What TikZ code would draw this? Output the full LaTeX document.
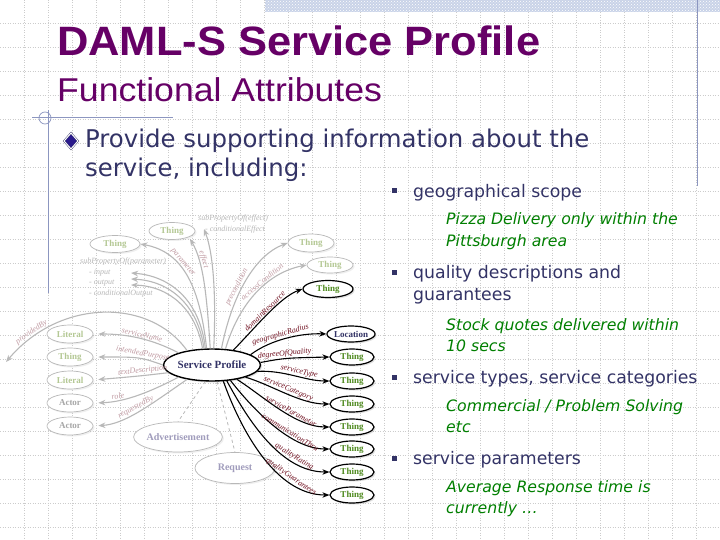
\documentclass[tikz,border=0pt]{standalone}
\usepackage{fontspec}
\usetikzlibrary{arrows.meta,positioning,shapes.geometric,patterns,shadows}
\newfontfamily\titlefont[FakeStretch=1.06]{Liberation Sans}
\newfontfamily\subtitlefont[FakeStretch=1.08]{Liberation Sans}
\newfontfamily\bodyfont{DejaVu Sans}
\newfontfamily\graphfont{Liberation Serif}
\definecolor{slidepurple}{HTML}{660066}
\definecolor{slidenavy}{HTML}{333366}
\definecolor{notegreen}{HTML}{007F00}
\definecolor{gridgrey}{HTML}{CCCCCC}
\definecolor{bandblue}{HTML}{C9D3E8}
\definecolor{rulecolor}{HTML}{8C96C0}
\definecolor{diamondblue}{HTML}{2A1A8C}
\definecolor{labelred}{HTML}{701020}
\definecolor{labelpink}{HTML}{C09AA2}
\definecolor{fadegrey}{HTML}{B8B8B8}
\definecolor{thinggreen}{HTML}{4E8A1E}
\definecolor{fadegreen}{HTML}{B4C894}
\definecolor{fadeblue}{HTML}{A09CBC}

\begin{document}
\begin{tikzpicture}[
    x=1pt, y=-1pt,
    gridline/.style={draw=gridgrey, line width=0.5pt, dash pattern=on 1pt off 1.5pt},
    ruleline/.style={draw=rulecolor, line width=1pt},
    bulletsq/.style={fill=slidenavy, minimum size=5pt, inner sep=0pt},
    headtext/.style={anchor=base west, inner sep=0pt, text=slidenavy, font=\bodyfont\fontsize{24.4}{29}\selectfont},
    itemtext/.style={anchor=base west, inner sep=0pt, text=slidenavy, font=\bodyfont\fontsize{17.3}{21}\selectfont},
    notetext/.style={anchor=base west, inner sep=0pt, text=notegreen, font=\bodyfont\itshape\fontsize{15.7}{19}\selectfont},
    solidnode/.style={ellipse, draw=black, line width=1.2pt, fill=white, inner sep=0pt, minimum width=44pt, minimum height=16pt, font=\graphfont\bfseries\fontsize{9}{9}\selectfont, text=thinggreen, drop shadow={shadow xshift=1.5pt, shadow yshift=-1.5pt, opacity=0.25}},
    fadenode/.style={ellipse, draw=fadegrey, line width=0.7pt, fill=white, inner sep=0pt, minimum width=46pt, minimum height=18pt, font=\graphfont\bfseries\fontsize{9}{9}\selectfont, text=fadegreen, drop shadow={shadow xshift=1.5pt, shadow yshift=-1.5pt, opacity=0.12}},
    solidedge/.style={-{Stealth[length=7pt,width=5.5pt]}, line width=1.1pt, black},
    fadeedge/.style={-{Stealth[length=7pt,width=5.5pt]}, line width=1.1pt, fadegrey},
    dashedge/.style={draw=fadegrey, dashed, line width=0.8pt},
    solidlabel/.style={sloped, above, inner sep=0.8pt, font=\graphfont\itshape\fontsize{8}{8}\selectfont, text=labelred},
    fadelabel/.style={solidlabel, text=labelpink},
    fadetext/.style={align=left, inner sep=0pt, text=fadegrey, font=\graphfont\itshape\fontsize{8}{10.5}\selectfont}
]
\useasboundingbox (0,0) rectangle (720,540);
\fill[white] (0,0) rectangle (720,540);

% slide background
\foreach \gx in {24,48,...,696} \draw[gridline] (\gx,0) -- (\gx,540);
\foreach \gy in {23,47,...,539} \draw[gridline] (0,\gy) -- (720,\gy);
\fill[bandblue] (265,0) rectangle (720,12);
\fill[pattern=crosshatch dots, pattern color=white] (265,0) rectangle (720,12);
\draw[ruleline] (697,0) -- (697,186);
\draw[ruleline] (32,118) -- (173,118);
\draw[ruleline] (48,110) -- (48,293);
\draw[ruleline, line width=0.7pt] (45,118) circle (6);

% titles
\node[anchor=base west, inner sep=0pt, text=slidepurple, font=\titlefont\bfseries\fontsize{41}{46}\selectfont] (title) at (57,56) {DAML-S Service Profile};
\node[anchor=base west, inner sep=0pt, text=slidepurple, font=\subtitlefont\fontsize{33}{38}\selectfont] (subtitle) at (57,102) {Functional Attributes};

% main bullet
\node[diamond, draw=slidenavy, double=white, double distance=1pt, fill=diamondblue, inner sep=0pt, minimum width=14pt, minimum height=16pt] (mainbullet) at (71,141) {};
\node[headtext] (provide) at (85,148) {Provide supporting information about the};
\node[headtext] (including) at (85,177) {service, including:};

% sub bullets
\node[bulletsq] (sqgeo) at (394,191) {};
\node[itemtext] (geo) at (413,197) {geographical scope};
\node[notetext] (geoa) at (446,225) {Pizza Delivery only within the};
\node[notetext] (geob) at (446,246) {Pittsburgh area};
\node[bulletsq] (sqqual) at (394,272) {};
\node[itemtext] (quala) at (413,278) {quality descriptions and};
\node[itemtext] (qualb) at (413,300) {guarantees};
\node[notetext] (stocka) at (446,330) {Stock quotes delivered within};
\node[notetext] (stockb) at (446,351) {10 secs};
\node[bulletsq] (sqtype) at (394,377) {};
\node[itemtext] (types) at (413,383) {service types, service categories};
\node[notetext] (comma) at (446,411) {Commercial / Problem Solving};
\node[notetext] (commb) at (446,432) {etc};
\node[bulletsq] (sqpar) at (394,458) {};
\node[itemtext] (params) at (413,464) {service parameters};
\node[notetext] (avga) at (446,492) {Average Response time is};
\node[notetext] (avgb) at (446,513) {currently \dots};

% ontology graph
\node[fadetext, anchor=north west] (subeff) at (198,215) {subPropertyOf(effect)\\\hspace*{7pt}- conditionalEffect};
\node[fadetext, anchor=north west] (subpar) at (80,258) {subPropertyOf(parameter)\\\hspace*{9pt}- input\\\hspace*{9pt}- output\\\hspace*{9pt}- conditionalOutput};

\node[fadenode] (tpre) at (311,243) {Thing};
\node[fadenode, minimum height=16pt] (tacc) at (330,265) {Thing};
\node[fadenode, minimum height=17pt] (teff) at (172,231) {Thing};
\node[fadenode, minimum width=50pt, minimum height=17pt] (tpar) at (115,244) {Thing};
\node[fadenode] (tname) at (70,334) {Literal};
\node[fadenode] (tpurp) at (70,357) {Thing};
\node[fadenode] (tdesc) at (70,380) {Literal};
\node[fadenode, text=gray!70] (trole) at (70,403) {Actor};
\node[fadenode, text=gray!70] (treq) at (70,426) {Actor};
\node[fadenode, minimum width=74pt, minimum height=30pt, text=fadeblue, font=\graphfont\bfseries\fontsize{10}{10}\selectfont] (adv) at (178,437) {Advertisement};
\node[fadenode, minimum width=80pt, minimum height=31pt, text=fadeblue, font=\graphfont\bfseries\fontsize{10}{10}\selectfont] (req) at (235,468) {Request};

\node[solidnode, minimum width=82pt, minimum height=32pt, line width=1.4pt, text=slidenavy, font=\graphfont\bfseries\fontsize{11}{11}\selectfont] (sp) at (212,365) {Service Profile};
\node[solidnode, minimum width=50pt, minimum height=17pt] (tdomain) at (328,289) {Thing};
\node[solidnode, text=slidenavy] (tloc) at (351,334) {Location};
\node[solidnode] (tdeg) at (352,357) {Thing};
\node[solidnode] (ttype) at (352,381) {Thing};
\node[solidnode] (tcat) at (352,404) {Thing};
\node[solidnode] (tsparam) at (352,427) {Thing};
\node[solidnode] (tcomm) at (352,449) {Thing};
\node[solidnode] (trating) at (352,472) {Thing};
\node[solidnode] (tguar) at (352,495) {Thing};

\coordinate (condeff) at (204,229);
\coordinate (fana) at (131,273);
\coordinate (fanb) at (131,279);
\coordinate (fanc) at (131,285);
\coordinate (provend) at (6,362);

% faded edges
\draw[fadeedge] (sp.112) .. controls (200,300) and (170,276) .. (fana);
\draw[fadeedge] (sp.116) .. controls (198,305) and (170,281) .. (fanb);
\draw[fadeedge] (sp.120) .. controls (196,310) and (170,286) .. (fanc);
\draw[fadeedge] (sp.108) .. controls (200,290) and (185,252) .. (tpar.east) node[fadelabel, pos=0.62] {parameter};
\draw[fadeedge, shorten >=2pt] (sp.96) .. controls (207,300) and (204,262) .. (teff.-20) node[fadelabel, pos=0.72] {effect};
\draw[fadeedge] (sp.84) .. controls (216,300) and (214,255) .. (condeff);
\draw[fadeedge] (sp.60) .. controls (232,295) and (255,255) .. (tpre.west) node[fadelabel, pos=0.42] {precondition};
\draw[fadeedge] (sp.50) .. controls (240,300) and (270,272) .. (tacc.west) node[fadelabel, pos=0.58] {accessCondition};
\draw[fadeedge, shorten >=5pt] (sp.160) .. controls (150,338) and (125,334) .. (tname.east) node[fadelabel, pos=0.45] {serviceName};
\draw[fadeedge, shorten >=5pt] (sp.west) .. controls (140,357) .. (tpurp.east) node[fadelabel, pos=0.4] {intendedPurpose};
\draw[fadeedge, shorten >=5pt] (sp.190) .. controls (140,376) .. (tdesc.east) node[fadelabel, pos=0.4] {textDescription};
\draw[fadeedge, shorten >=5pt] (sp.200) .. controls (150,392) and (125,402) .. (trole.east) node[fadelabel, pos=0.72] {role};
\draw[fadeedge, shorten >=5pt] (sp.210) .. controls (150,405) and (125,424) .. (treq.east) node[fadelabel, pos=0.5] {requestedBy};
\draw[fadeedge] (sp.150) .. controls (150,298) and (60,298) .. (provend) node[fadelabel, pos=0.84] {providedBy};
\draw[dashedge] (sp.248) -- (adv.north);
\draw[dashedge] (sp.287) -- (req.north);

% solid edges
\draw[solidedge] (sp.35) .. controls (255,328) and (280,297) .. (tdomain.west) node[solidlabel, pos=0.5] {domainResource};
\draw[solidedge] (sp.15) .. controls (270,340) and (300,333) .. (tloc.west) node[solidlabel, pos=0.45] {geographicRadius};
\draw[solidedge] (sp.3) .. controls (285,358) .. (tdeg.west) node[solidlabel, pos=0.45] {degreeOfQuality};
\draw[solidedge] (sp.352) .. controls (285,370) and (305,381) .. (ttype.west) node[solidlabel, pos=0.55] {serviceType};
\draw[solidedge] (sp.340) .. controls (272,385) and (300,404) .. (tcat.west) node[solidlabel, pos=0.5] {serviceCategory};
\draw[solidedge] (sp.330) .. controls (262,395) and (295,427) .. (tsparam.west) node[solidlabel, pos=0.6] {serviceParameter};
\draw[solidedge] (sp.320) .. controls (252,408) and (290,449) .. (tcomm.west) node[solidlabel, pos=0.64] {communicationThru};
\draw[solidedge] (sp.313) .. controls (247,418) and (280,472) .. (trating.west) node[solidlabel, pos=0.72] {qualityRating};
\draw[solidedge] (sp.305) .. controls (240,428) and (275,495) .. (tguar.west) node[solidlabel, pos=0.72] {qualityGuarantees};
\end{tikzpicture}
\end{document}
